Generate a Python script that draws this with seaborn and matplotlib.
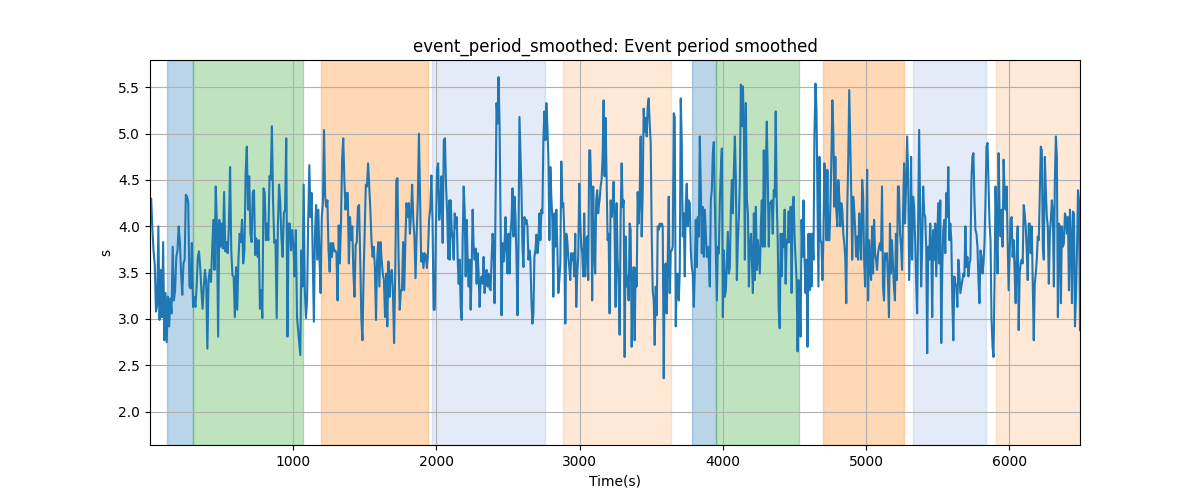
import numpy as np
import pandas as pd
import matplotlib
matplotlib.use("Agg")
import matplotlib.pyplot as plt
import seaborn as sns

# event period (s) in six consecutive windows
seg_start = [2, 1051, 2094, 3140, 4196, 5237]
seg_end = [1028, 2092, 3137, 4189, 5236, 6493]

seg_a = [4.28, 4.30, 3.96, 3.73, 3.58, 3.08, 3.15, 4.00, 2.99, 3.53, 3.02, 3.83, 2.77, 3.28, 2.75,
         3.24, 2.92, 3.22, 3.06, 3.78, 3.20, 3.31, 3.67, 3.74, 4.00, 3.83, 3.49, 3.26, 3.60, 3.64,
         4.34, 4.32, 4.25, 3.35, 3.33, 3.82, 3.13, 3.24, 3.13, 3.35, 3.67, 3.73, 3.56, 3.31, 3.11,
         3.35, 3.53, 3.40, 2.68, 3.42, 3.53, 3.40, 3.74, 4.07, 3.53, 4.43, 4.00, 2.81, 4.07, 3.78,
         4.03, 3.76, 4.37, 3.73, 3.83, 3.71, 4.00, 4.64, 3.74, 3.47, 3.46, 3.02, 3.56, 3.10, 3.64,
         3.92, 3.83, 4.07, 3.60, 3.74, 4.57, 4.86, 4.18, 4.54, 3.92, 3.83, 4.37, 4.39, 3.69, 3.87,
         3.67, 3.85, 3.11, 3.31, 3.01, 4.41, 4.36, 3.85, 4.03, 3.85, 4.54, 4.50, 5.08, 4.25, 3.82,
         3.85, 3.01, 4.00, 4.45, 4.25, 3.87, 3.67, 4.14, 4.18, 4.95, 2.81, 4.03, 4.03, 3.74, 3.96,
         3.78, 3.46, 3.96, 3.02]
seg_b = [2.61, 3.74, 3.35, 4.45, 3.31, 3.01, 3.20, 4.07, 4.66, 4.10, 4.36, 3.64, 2.97, 3.92, 4.23,
         3.64, 4.18, 3.64, 3.28, 4.10, 4.25, 5.04, 4.32, 4.21, 4.28, 3.74, 3.51, 3.82, 3.67, 3.82,
         3.73, 3.74, 3.71, 3.20, 4.01, 3.60, 4.03, 4.72, 4.95, 4.50, 4.18, 4.36, 4.36, 3.60, 4.10,
         3.85, 4.00, 3.49, 3.24, 3.80, 3.83, 4.21, 4.23, 3.67, 3.02, 2.77, 3.46, 3.96, 4.45, 4.43,
         4.68, 4.43, 4.18, 3.85, 3.67, 3.78, 3.56, 2.99, 3.64, 3.83, 3.35, 3.83, 3.64, 3.49, 3.42,
         3.02, 3.49, 2.92, 3.62, 3.24, 3.49, 3.53, 3.28, 2.74, 3.49, 4.50, 4.52, 3.64, 3.10, 3.31,
         3.31, 3.83, 3.31, 3.85, 4.25, 4.10, 4.25, 3.92, 4.14, 4.45, 4.07, 3.89, 3.44, 3.92, 4.28,
         5.00, 4.28, 3.62, 3.71, 3.55, 3.71, 3.69, 3.55, 3.71, 4.07, 4.19, 4.55, 4.07, 3.10, 3.10,
         3.96, 4.61, 4.68, 4.07, 4.25, 4.54, 3.82, 4.93, 4.95, 4.43, 4.14, 3.65, 4.28]
seg_c = [3.64, 4.28, 3.96, 3.85, 3.64, 4.14, 3.98, 4.10, 3.64, 3.38, 3.64, 3.13, 2.99, 3.85, 4.43,
         4.18, 3.46, 4.07, 3.64, 3.35, 3.64, 3.10, 3.53, 4.18, 3.78, 3.64, 3.76, 3.38, 3.71, 3.49,
         3.13, 3.42, 3.46, 3.38, 3.67, 3.28, 3.49, 3.53, 3.35, 3.49, 3.33, 3.31, 3.64, 3.92, 3.78,
         3.17, 4.28, 5.33, 5.11, 5.61, 5.11, 4.03, 3.04, 3.82, 3.62, 3.78, 4.10, 3.71, 3.49, 3.92,
         3.49, 3.92, 4.07, 4.41, 3.89, 4.32, 4.10, 3.67, 3.04, 3.78, 5.18, 4.79, 4.39, 3.78, 3.56,
         4.10, 4.03, 4.07, 4.00, 3.64, 3.74, 3.64, 3.20, 2.95, 3.06, 3.67, 3.74, 3.91, 3.71, 3.82,
         4.14, 3.85, 4.18, 4.14, 4.93, 5.24, 4.93, 5.33, 5.08, 4.75, 3.85, 4.64, 4.32, 4.07, 3.24,
         4.14, 3.78, 4.18, 3.78, 3.28, 3.42, 3.60, 4.70, 4.21, 4.25, 3.92, 2.95, 3.92, 3.85, 3.67,
         3.56, 3.42, 3.71, 3.64, 3.71, 3.46, 3.92, 3.13, 3.49, 3.67, 4.46, 4.07, 3.78, 3.71, 3.46,
         4.14, 3.46, 3.85, 3.89, 3.42, 4.82, 4.82, 4.36, 3.20, 4.43, 3.74, 3.49, 4.28, 4.39, 4.14,
         4.25]
seg_d = [4.28, 4.43, 4.50, 4.75, 5.36, 4.54, 5.17, 4.54, 3.85, 3.92, 3.06, 4.28, 4.10, 4.21, 4.48,
         3.92, 3.13, 4.25, 3.64, 3.35, 2.83, 4.10, 4.68, 4.21, 4.28, 2.59, 3.89, 3.35, 3.46, 3.20,
         4.03, 3.96, 2.70, 3.35, 3.56, 2.77, 3.55, 3.35, 4.37, 4.03, 4.36, 4.97, 3.89, 4.36, 5.27,
         5.02, 5.17, 4.97, 5.29, 5.38, 5.11, 4.90, 3.92, 3.31, 3.20, 2.72, 3.35, 3.04, 4.00, 3.96,
         4.03, 4.00, 4.03, 4.00, 2.36, 3.56, 3.60, 3.06, 3.64, 4.32, 3.28, 3.73, 3.74, 3.78, 5.22,
         5.18, 2.92, 3.46, 3.49, 3.20, 3.51, 5.38, 4.90, 3.89, 4.14, 3.46, 4.25, 4.46, 4.00, 4.28,
         4.25, 3.74, 3.56, 3.49, 3.13, 3.51, 4.07, 3.56, 4.10, 3.89, 4.97, 4.43, 3.71, 4.21, 3.67,
         4.18, 3.92, 3.67, 3.78, 3.64, 3.35, 4.28, 4.39, 4.79, 4.91, 4.25, 3.71, 3.20, 3.78, 3.71,
         4.28, 4.61, 4.84, 3.02, 3.74, 3.24, 3.31, 3.64, 3.94, 3.49, 3.56, 4.18, 4.50, 4.14, 4.61,
         4.97, 4.50, 3.42, 3.85, 4.10, 4.50, 5.53, 5.08, 5.51, 5.08, 3.64, 5.33, 4.28, 4.14, 3.35,
         3.78]
seg_e = [3.92, 3.64, 3.28, 4.14, 3.42, 4.21, 3.53, 3.85, 3.67, 3.49, 4.00, 4.28, 3.78, 4.82, 3.78,
         4.64, 5.13, 4.54, 3.78, 4.25, 4.25, 4.28, 3.92, 4.39, 4.32, 5.24, 4.28, 3.85, 3.10, 2.90,
         3.92, 3.46, 3.92, 3.78, 4.18, 3.38, 3.85, 3.82, 4.16, 3.83, 4.21, 3.28, 4.21, 4.32, 3.89,
         3.64, 3.42, 2.65, 3.42, 3.20, 2.81, 4.07, 3.67, 4.28, 3.64, 3.28, 3.64, 2.70, 3.92, 3.31,
         3.92, 3.35, 3.92, 3.64, 5.00, 5.54, 5.26, 4.28, 3.35, 4.75, 3.85, 3.82, 3.42, 3.89, 4.68,
         4.36, 3.85, 4.61, 3.85, 3.85, 4.21, 4.72, 5.36, 5.00, 4.21, 4.75, 4.18, 4.00, 4.50, 4.32,
         4.00, 4.25, 4.18, 3.92, 3.82, 3.67, 3.17, 4.18, 4.72, 5.47, 4.93, 4.36, 3.64, 4.32, 4.18,
         3.96, 3.67, 3.89, 3.64, 4.14, 3.92, 3.64, 4.50, 4.32, 3.64, 3.35, 3.78, 4.61, 3.20, 3.85,
         3.56, 3.42, 4.00, 3.49, 4.07, 3.71, 3.64, 3.53, 3.71, 3.78, 3.82, 3.74, 4.43, 3.35, 3.20,
         3.71, 3.64, 3.71, 3.42, 3.02, 4.03, 3.49, 3.85, 3.60, 3.35, 3.20, 3.92, 3.42, 4.43, 4.43,
         4.00]
seg_f = [3.92, 3.78, 3.53, 4.14, 4.68, 4.03, 4.43, 4.97, 4.61, 3.42, 3.78, 4.75, 3.64, 4.32, 4.21,
         3.85, 3.42, 3.06, 4.00, 5.04, 4.18, 3.35, 3.78, 4.43, 4.14, 4.10, 3.78, 2.63, 3.78, 3.64,
         4.03, 3.78, 3.02, 3.96, 3.64, 4.03, 3.46, 3.85, 4.25, 3.60, 4.28, 2.74, 3.53, 3.96, 4.07,
         3.71, 4.36, 4.10, 4.64, 3.85, 4.03, 3.85, 3.20, 2.77, 3.46, 3.38, 3.35, 3.13, 3.64, 3.49,
         3.28, 3.35, 3.42, 3.49, 3.46, 4.00, 3.56, 3.67, 3.46, 3.60, 3.64, 4.50, 4.75, 4.79, 4.28,
         3.96, 3.92, 3.78, 3.42, 3.17, 3.74, 3.67, 3.49, 3.60, 3.82, 4.28, 4.86, 4.90, 4.46, 4.03,
         3.85, 2.99, 2.70, 2.59, 3.42, 4.43, 3.92, 3.49, 4.79, 4.18, 3.89, 4.18, 3.78, 4.72, 4.36,
         4.18, 4.43, 3.85, 3.31, 3.71, 4.07, 4.10, 3.67, 3.85, 3.49, 3.17, 3.71, 4.00, 2.88, 3.49,
         3.60, 3.64, 3.60, 4.23, 4.14, 4.00, 3.74, 3.42, 4.03, 4.03, 3.71, 4.00, 3.38, 2.77, 3.38,
         3.49, 3.64, 3.89, 3.85, 4.36, 4.86, 4.82, 3.78, 3.64, 4.75, 4.39, 4.10, 4.00, 3.38, 3.92,
         4.07, 4.28, 4.14, 3.35, 4.50, 4.97, 4.75, 3.02, 4.03, 4.00, 3.17, 4.00, 3.78, 3.82, 4.14,
         4.10, 3.92, 4.10, 3.31, 4.18, 3.85, 3.17, 4.16, 4.14, 2.92, 3.24, 3.74, 4.39, 4.28, 2.88]

# shaded phases
span_start = [119, 305, 1193, 1970, 2884, 3785, 3952, 4697, 5325, 5910]
span_end = [305, 1073, 1942, 2757, 3641, 3952, 4534, 5267, 5840, 6493]
span_kind = ["a", "b", "c", "d", "e", "a", "b", "c", "d", "e"]

kind_style = {
    "a": ("tab:blue", 0.3),
    "b": ("tab:green", 0.3),
    "c": ("tab:orange", 0.3),
    "d": ("#4878d0", 0.15),
    "e": ("tab:orange", 0.17),
}

segments = [seg_a, seg_b, seg_c, seg_d, seg_e, seg_f]
times, values = [], []
for t0, t1, seg in zip(seg_start, seg_end, segments):
    times.extend(np.linspace(t0, t1, len(seg)))
    values.extend(seg)
df = pd.DataFrame({"time": times, "value": values})

fig, ax = plt.subplots(figsize=(12, 5), dpi=100)

for s0, s1, kind in zip(span_start, span_end, span_kind):
    color, alpha = kind_style[kind]
    ax.axvspan(s0, s1, color=color, alpha=alpha)

sns.lineplot(data=df, x="time", y="value", ax=ax, color="tab:blue",
             linewidth=1.5, estimator=None, sort=False)

ax.set_xlim(2, 6493)
ax.set_ylim(1.64, 5.795)
ax.grid(True)
ax.set_title("event_period_smoothed: Event period smoothed")
ax.set_xlabel("Time(s)")
ax.set_ylabel("s")

fig.savefig("out.png", dpi=100)
